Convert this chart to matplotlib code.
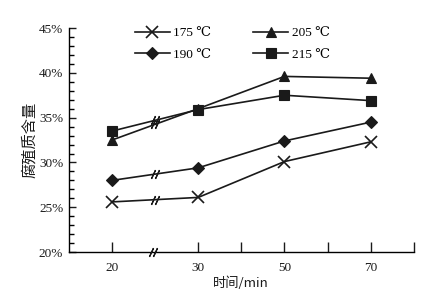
import matplotlib
matplotlib.use("Agg")
import matplotlib.pyplot as plt
from matplotlib import transforms
from matplotlib.ticker import MultipleLocator, FuncFormatter

CJK = ["Noto Sans CJK SC", "DejaVu Sans"]
SERIF = ["Liberation Serif", "DejaVu Serif"]
INK = "#1a1a1a"

# time points (min) and their slot on the broken x axis
times = [20, 30, 50, 70]
slots = [1, 3, 5, 7]
tick_slots = [1, 3, 4, 5, 6, 7, 8]
tick_labels = ["20", "30", "", "50", "", "70", ""]
break_slot = 2

labels = ["175 ℃", "190 ℃", "205 ℃", "215 ℃"]
markers = ["x", "D", "^", "s"]
sizes = [8, 6, 7, 6.5]
# humic content, %
v175 = [25.6, 26.1, 30.1, 32.3]
v190 = [28.0, 29.4, 32.4, 34.5]
v205 = [32.5, 36.0, 39.6, 39.4]
v215 = [33.5, 35.9, 37.5, 36.9]
series = [v175, v190, v205, v215]

plt.rcParams.update({"font.family": SERIF, "font.size": 8.5,
                     "axes.linewidth": 1.0})

fig = plt.figure(figsize=(4.44, 2.98), dpi=100)
ax = fig.add_axes([0.155, 0.154, 0.777, 0.752])

handles = []
for vals, lab, mk, ms in zip(series, labels, markers, sizes):
    h, = ax.plot(slots, vals, color=INK, lw=1.2, marker=mk, ms=ms,
                 mew=1.2 if mk == "x" else 0.8, mfc=INK, mec=INK, label=lab,
                 zorder=3)
    handles.append(h)
    # break marks on each line midway between 20 and 30
    yb = (vals[0] + vals[1]) / 2
    for dx in (-1.6, 1.6):
        tr = transforms.offset_copy(ax.transData, fig=fig, x=dx, y=0, units="dots")
        ax.plot([break_slot], [yb], marker=(2, 2, -25), ms=7, color=INK,
                mew=0.9, transform=tr, zorder=4)

# break on the x axis
for dx in (-1.6, 1.6):
    tr = transforms.offset_copy(ax.transData, fig=fig, x=dx, y=0, units="dots")
    ax.plot([break_slot - 0.05], [20], marker=(2, 2, -25), ms=7, color=INK,
            mew=0.9, transform=tr, clip_on=False, zorder=5)

ax.set_xlim(0, 8)
ax.set_ylim(20, 45)
ax.set_xticks(tick_slots, tick_labels)
ax.yaxis.set_major_locator(MultipleLocator(5))
ax.yaxis.set_minor_locator(MultipleLocator(1))
ax.yaxis.set_major_formatter(FuncFormatter(lambda v, p: f"{v:.0f}%"))
ax.tick_params(axis="x", direction="in", length=7, width=1, pad=7,
               labelsize=9.5, colors=INK)
ax.tick_params(axis="y", which="major", direction="in", length=5, width=1,
               labelsize=9.5, colors=INK, pad=4)
ax.tick_params(axis="y", which="minor", direction="in", length=3.5, width=1)
ax.spines[["top", "right"]].set_visible(False)

ax.set_xlabel("时间/min", family=CJK, fontsize=9.5, color=INK, labelpad=2)
ax.set_ylabel("腐殖质含量", family=CJK, fontsize=11, color=INK, labelpad=1)

ax.legend(handles=handles, ncol=2, frameon=False, loc="upper left",
          bbox_to_anchor=(0.191, 1.005), borderaxespad=0, borderpad=0,
          handlelength=2.65, handletextpad=0.25, columnspacing=3.2,
          labelspacing=0.72, fontsize=9.5)

fig.savefig("out.png", dpi=100)
